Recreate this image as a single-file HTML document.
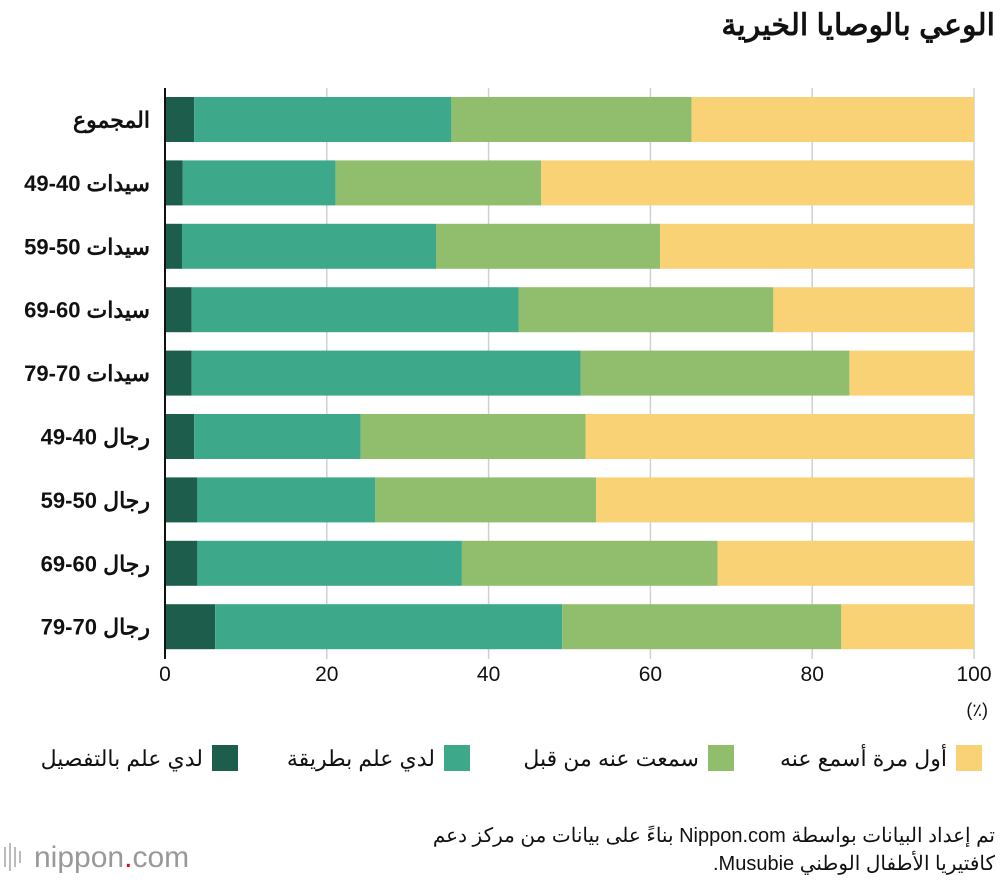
<!DOCTYPE html>
<html><head><meta charset="utf-8">
<style>
body{margin:0;background:#fff;width:1000px;height:878px;overflow:hidden;font-family:"Liberation Sans","Noto Sans CJK SC",sans-serif;}
svg text{font-family:"Liberation Sans","Noto Sans CJK SC",sans-serif;}
</style></head>
<body>
<svg id="chart" width="1000" height="878">
<text x="995" y="35" text-anchor="start" direction="rtl" font-size="30" font-weight="bold" fill="#111">الوعي بالوصايا الخيرية</text>
<g id="grid"></g><g id="bars"></g><g id="labels"></g><g id="ticks"></g>
<text x="988" y="716" text-anchor="end" font-size="18" fill="#111">(٪)</text>
<g id="legend"></g>
<g>
<rect x="4" y="847" width="2" height="20" fill="#bbb"/><rect x="9" y="843" width="2" height="28" fill="#bbb"/><rect x="14" y="847" width="2" height="20" fill="#bbb"/><rect x="19" y="851" width="2" height="12" fill="#bbb"/>
<text x="34" y="867" font-size="30" fill="#999">nippon<tspan fill="#e60012">.</tspan>com</text>
</g>
<text x="995" y="842" text-anchor="start" direction="rtl" font-size="20" fill="#111">تم إعداد البيانات بواسطة Nippon.com بناءً على بيانات من مركز دعم</text>
<text x="995" y="870" text-anchor="start" direction="rtl" font-size="20" fill="#111">كافتيريا الأطفال الوطني Musubie.</text>
</svg>
<script>
const categories=["المجموع","سيدات 40-49","سيدات 50-59","سيدات 60-69","سيدات 70-79","رجال 40-49","رجال 50-59","رجال 60-69","رجال 70-79"];
const detailed=[3.6,2.2,2.1,3.3,3.3,3.6,4.0,4.0,6.2];
const somewhat=[31.8,18.9,31.4,40.4,48.1,20.6,22.0,32.7,42.9];
const heard=[29.7,25.4,27.7,31.5,33.2,27.8,27.3,31.6,34.5];
const firstTime=[34.9,53.5,38.8,24.8,15.4,48.0,46.7,31.7,16.4];
const ticks=[0,20,40,60,80,100];
const seriesNames=["لدي علم بالتفصيل","لدي علم بطريقة","سمعت عنه من قبل","أول مرة أسمع عنه"];
const colors=["#1c5e4b","#3ea98a","#91be6d","#f9d276"];
const NS="http://www.w3.org/2000/svg";
const x0=165,x1=974,y0=88,y1=659,rowH=63.4,barH=45,firstTop=97;
const xs=v=>x0+v/100*(x1-x0);
const yTop=i=>firstTop+i*rowH;
function mk(tag,attrs,parent){const e=document.createElementNS(NS,tag);for(const k in attrs)e.setAttribute(k,attrs[k]);parent.appendChild(e);return e;}
const grid=document.getElementById('grid'),bars=document.getElementById('bars'),labels=document.getElementById('labels'),tk=document.getElementById('ticks'),lg=document.getElementById('legend');
ticks.forEach(t=>{
  if(t>0){const g=mk('line',{x1:xs(t),x2:xs(t),y1:y0,y2:y1,stroke:'#d0d0d0','stroke-width':1.5},grid);
  
  }
  const l=mk('text',{x:xs(t),y:681,'text-anchor':'middle','font-size':21,fill:'#111'},tk);
  l.textContent=t;
  
  
});
const series=[detailed,somewhat,heard,firstTime];
categories.forEach((c,i)=>{
  let acc=0;
  series.forEach((s,j)=>{
    const r=mk('rect',{x:xs(acc),y:yTop(i),width:xs(acc+s[i])-xs(acc),height:barH,fill:colors[j]},bars);
    
    
    acc+=s[i];
  });
  const t=mk('text',{x:150,y:yTop(i)+barH/2+8,'text-anchor':'start','font-size':22,'font-weight':'bold',fill:'#111',direction:'rtl'},labels);
  t.textContent=c;
  
  
});
const ax=mk('line',{x1:x0,x2:x0,y1:y0,y2:y1,stroke:'#111','stroke-width':2},bars);


const legendSq=[212,444,708,956];
for(let j=0;j<4;j++){
  const r=mk('rect',{x:legendSq[j],y:745,width:26,height:26,fill:colors[j]},lg);
  
  
  const t=mk('text',{x:legendSq[j]-9,y:766,'text-anchor':'start','font-size':22,fill:'#111',direction:'rtl'},lg);
  t.textContent=seriesNames[j];
  
  
}
</script>
</body></html>
